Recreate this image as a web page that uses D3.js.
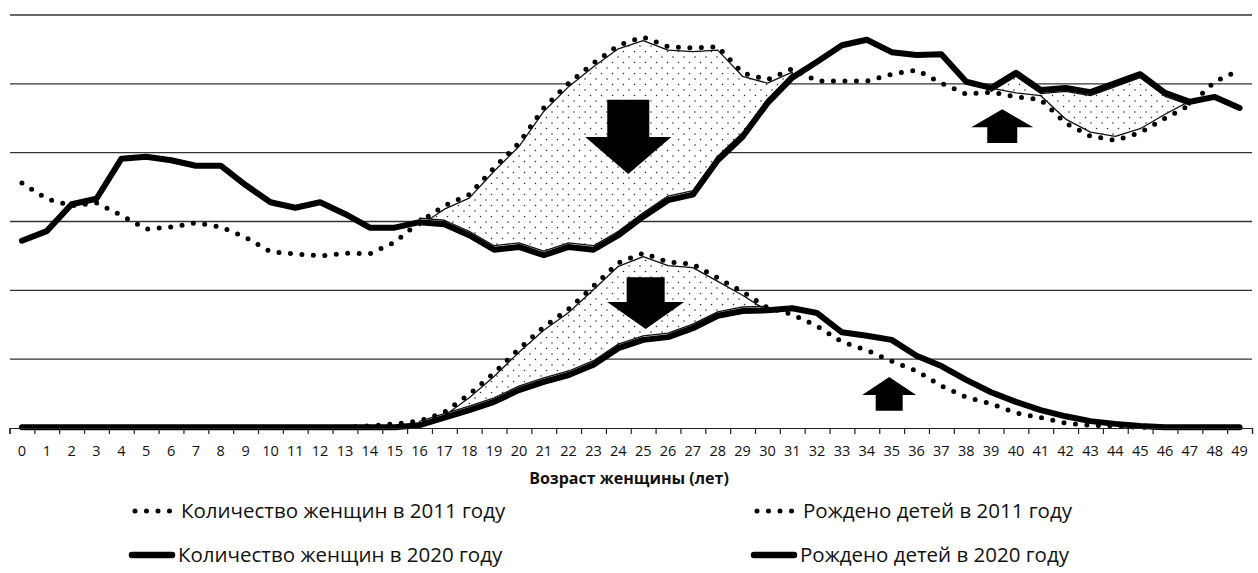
<!DOCTYPE html>
<html>
<head>
<meta charset="utf-8">
<script src="https://cdn.jsdelivr.net/npm/d3@7"></script>
<style>
  body { margin: 0; background: #fff; }
  svg { display: block; font-family: "Open Sans", "DejaVu Sans", sans-serif; }
</style>
</head>
<body>
<script>
const w = 1258;
const h = 573;

// ages 0..49
const ages = d3.range(0, 50);

// number of women, arbitrary units (one gridline = 1)
const women2011 = [3.56, 3.33, 3.23, 3.27, 3.09, 2.89, 2.92, 2.98, 2.92, 2.77,
                   2.56, 2.53, 2.50, 2.54, 2.53, 2.70, 2.99, 3.23, 3.39, 3.78,
                   4.14, 4.65, 5.01, 5.30, 5.56, 5.68, 5.54, 5.52, 5.54, 5.16,
                   5.06, 5.22, 5.04, 5.04, 5.04, 5.14, 5.20, 5.01, 4.85, 4.88,
                   4.81, 4.77, 4.43, 4.24, 4.18, 4.29, 4.50, 4.69, 5.03, 5.20];
const women2020 = [2.72, 2.86, 3.25, 3.33, 3.91, 3.94, 3.89, 3.81, 3.81, 3.53,
                   3.28, 3.20, 3.28, 3.11, 2.91, 2.91, 2.99, 2.96, 2.80, 2.59,
                   2.63, 2.51, 2.63, 2.59, 2.80, 3.07, 3.31, 3.39, 3.89, 4.23,
                   4.72, 5.09, 5.32, 5.56, 5.64, 5.46, 5.42, 5.43, 5.03, 4.94,
                   5.16, 4.91, 4.94, 4.88, 5.01, 5.14, 4.87, 4.74, 4.81, 4.65];
// children born, same units
const births2011 = [0.01, 0.01, 0.01, 0.01, 0.01, 0.01, 0.01, 0.01, 0.01, 0.01,
                    0.01, 0.01, 0.01, 0.01, 0.03, 0.06, 0.10, 0.23, 0.49, 0.80,
                    1.15, 1.47, 1.73, 2.06, 2.40, 2.54, 2.41, 2.38, 2.18, 1.98,
                    1.75, 1.65, 1.48, 1.25, 1.13, 0.97, 0.83, 0.61, 0.45, 0.35,
                    0.22, 0.15, 0.07, 0.04, 0.03, 0.01, 0.01, 0.01, 0.01, 0.01];
const births2020 = [0.01, 0.01, 0.01, 0.01, 0.01, 0.01, 0.01, 0.01, 0.01, 0.01,
                    0.01, 0.01, 0.01, 0.01, 0.01, 0.01, 0.04, 0.15, 0.26, 0.38,
                    0.55, 0.67, 0.77, 0.92, 1.16, 1.28, 1.32, 1.45, 1.63, 1.70,
                    1.71, 1.74, 1.67, 1.39, 1.34, 1.28, 1.05, 0.90, 0.70, 0.52,
                    0.38, 0.26, 0.17, 0.10, 0.06, 0.03, 0.01, 0.01, 0.01, 0.01];

// shaded differences: [first age, last age, upper series, lower series]
const regions = [
  [16, 31, women2011, women2020],
  [39, 47, women2020, women2011],
  [16, 30, births2011, births2020]
];

// arrows: centre age, tail value, tip value
const arrows = [
  { age: 24.4, from: 4.77, to: 3.69, shaft: 42, head: 86, headLen: 37 },
  { age: 25.1, from: 2.19, to: 1.44, shaft: 38, head: 77, headLen: 27 },
  { age: 39.45, from: 4.14, to: 4.63, shaft: 30, head: 62, headLen: 18 },
  { age: 34.9, from: 0.25, to: 0.74, shaft: 27, head: 54, headLen: 18 }
];

const gridValues = [1, 2, 3, 4, 5, 6];

const legendItems = [
  { label: "Количество женщин в 2011 году", dotted: true, col: 0, row: 0 },
  { label: "Рождено детей в 2011 году", dotted: true, col: 1, row: 0 },
  { label: "Количество женщин в 2020 году", dotted: false, col: 0, row: 1 },
  { label: "Рождено детей в 2020 году", dotted: false, col: 1, row: 1 }
];

const svg = d3.select("body").append("svg")
  .attr("width", w)
  .attr("height", h);

// stipple fill
const defs = svg.append("defs");
const pat = defs.append("pattern")
  .attr("id", "stipple")
  .attr("patternUnits", "userSpaceOnUse")
  .attr("width", 11)
  .attr("height", 11);
pat.append("rect").attr("width", 11).attr("height", 11).attr("fill", "#fff");
pat.append("circle").attr("cx", 2).attr("cy", 2).attr("r", 0.75).attr("fill", "#222");
pat.append("circle").attr("cx", 7.5).attr("cy", 7.5).attr("r", 0.75).attr("fill", "#222");

const xBand = d3.scaleBand()
  .domain(ages)
  .range([9.5, 1252]);

const bw = xBand.bandwidth();
const x = d3.scaleLinear()
  .domain([0, 49])
  .range([xBand(0) + bw / 2, xBand(49) + bw / 2]);

const y = d3.scaleLinear()
  .domain([0, 6])
  .range([428, 15]);

// gridlines
svg.append("g")
  .selectAll("line")
  .data(gridValues)
  .enter()
  .append("line")
  .attr("x1", 10)
  .attr("x2", 1252)
  .attr("y1", d => y(d))
  .attr("y2", d => y(d))
  .attr("stroke", "#333")
  .attr("stroke-width", 1.3);

// shaded regions
regions.forEach(r => {
  const pts = d3.range(r[0], r[1] + 1);
  const area = d3.area()
    .x(i => x(i))
    .y0(i => y(r[3][i]) - 4)
    .y1(i => y(r[2][i]) + 3.5);
  svg.append("path")
    .attr("d", area(pts))
    .attr("fill", "url(#stipple)")
    .attr("stroke", "#111")
    .attr("stroke-width", 1.3)
    .attr("stroke-linejoin", "round");
});

const line = d3.line()
  .x((d, i) => x(i))
  .y(d => y(d));

const series = [
  { values: women2011, dotted: true },
  { values: women2020, dotted: false },
  { values: births2011, dotted: true },
  { values: births2020, dotted: false }
];

series.forEach(s => {
  svg.append("path")
    .attr("d", line(s.values))
    .attr("fill", "none")
    .attr("stroke", "#000")
    .attr("stroke-width", s.dotted ? 5 : 6)
    .attr("stroke-linecap", "round")
    .attr("stroke-linejoin", "round")
    .attr("stroke-dasharray", s.dotted ? "0 11.5" : null);
});

// arrows
arrows.forEach(a => {
  const cx = x(a.age);
  const yTail = y(a.from);
  const yTip = y(a.to);
  const dir = yTip > yTail ? 1 : -1;
  const yBase = yTip - dir * a.headLen;
  const p = d3.path();
  p.moveTo(cx - a.shaft / 2, yTail);
  p.lineTo(cx + a.shaft / 2, yTail);
  p.lineTo(cx + a.shaft / 2, yBase);
  p.lineTo(cx + a.head / 2, yBase);
  p.lineTo(cx, yTip);
  p.lineTo(cx - a.head / 2, yBase);
  p.lineTo(cx - a.shaft / 2, yBase);
  p.closePath();
  svg.append("path").attr("d", p.toString()).attr("fill", "#000");
});

// x axis: line with ticks on category boundaries
const xEdge = d3.scaleLinear().domain([0, 50]).range([9.5, 1252]);
svg.append("g")
  .attr("transform", "translate(0,428)")
  .call(d3.axisBottom(xEdge).tickValues(d3.range(0, 51)).tickSize(6).tickFormat(""))
  .call(g => g.selectAll("path, line").attr("stroke", "#222").attr("stroke-width", 1.2));

svg.append("g")
  .attr("transform", "translate(0,428)")
  .call(d3.axisBottom(xBand).tickSize(0).tickPadding(18))
  .call(g => g.select(".domain").remove())
  .call(g => g.selectAll("text")
    .attr("font-family", "'Open Sans', sans-serif")
    .attr("font-size", 14.5)
    .attr("fill", "#111"));

svg.append("text")
  .attr("x", 629)
  .attr("y", 484)
  .attr("text-anchor", "middle")
  .attr("font-size", 16)
  .attr("font-weight", "bold")
  .attr("fill", "#111")
  .text("Возраст женщины (лет)");

// legend
const legend = svg.append("g");
legendItems.forEach(d => {
  const lx = d.col === 0 ? 132 : 754;
  const ly = d.row === 0 ? 511 : 555;
  legend.append("line")
    .attr("x1", d.dotted ? lx + 3 : lx)
    .attr("x2", lx + 40)
    .attr("y1", ly)
    .attr("y2", ly)
    .attr("stroke", "#000")
    .attr("stroke-width", d.dotted ? 5 : 6.5)
    .attr("stroke-linecap", "round")
    .attr("stroke-dasharray", d.dotted ? "0 11.5" : null);
  legend.append("text")
    .attr("x", lx + (d.dotted ? 49 : 46))
    .attr("y", ly + 7)
    .attr("font-size", 20.5)
    .attr("fill", "#111")
    .text(d.label);
});
</script>
</body>
</html>
